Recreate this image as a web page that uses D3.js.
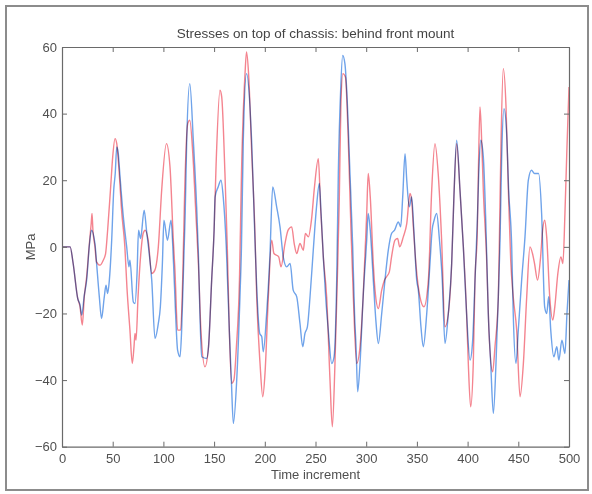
<!DOCTYPE html>
<html>
<head>
<meta charset="utf-8">
<script src="https://cdn.jsdelivr.net/npm/d3@7"></script>
<style>
    body { margin: 0; background: #fff; }
    svg { font-family: "Liberation Sans", Arial, sans-serif; }
</style>
</head>
<body>
<svg id="chart" width="592" height="494"></svg>
<script>
const chartTitle = "Stresses on top of chassis: behind front mount";
const xLabel = "Time increment";
const yLabel = "MPa";
const xTicks = [0, 50, 100, 150, 200, 250, 300, 350, 400, 450, 500];
const yTicks = [-60, -40, -20, 0, 20, 40, 60];

// blue trace (time increment, MPa)
const blueT = [0, 4, 8, 11, 15.5, 17.8, 19.4, 22, 24.3, 27, 29, 32.5, 34, 36.8, 39, 41.7, 43.4, 45, 46.7, 49, 51, 52.5, 54, 55.5, 57, 60.5, 63.8, 66, 67, 70.3, 72, 74, 75.5, 77.5, 81, 83.5, 86, 88.5, 91.7, 95, 97, 99, 100.5, 104, 107.5, 110, 112, 114, 116.4, 118, 120, 121.5, 123, 126, 129.5, 132.8, 134.5, 136, 137.8, 142.7, 144.5, 147.6, 150, 151, 154, 156.8, 159, 162, 165, 167, 169, 172.3, 175.5, 177, 178.8, 182, 185.4, 187, 190.3, 192, 195, 197, 198.5, 201.8, 205, 207.8, 211.7, 215, 218.2, 221.6, 225, 228, 231.5, 234.7, 237.4, 239.6, 242, 244.6, 247.8, 251, 253.8, 255.5, 257.7, 260, 262.6, 266, 268.3, 270.9, 272.5, 274.8, 276.8, 279, 280.8, 284, 286.7, 288.5, 290, 291.6, 293.9, 297, 300.5, 302, 304, 307, 309.5, 312, 315.3, 318.5, 321.8, 325, 328, 331.7, 334, 336, 338.3, 340, 342.5, 344.8, 347, 349.8, 351.4, 354, 356.3, 359.7, 362.9, 365, 367, 369.5, 372, 375, 377.7, 381, 384.3, 386.5, 389.2, 392.5, 395.8, 399, 402.4, 405, 407.3, 409.6, 411, 413, 415.5, 418, 420.4, 422.8, 425.4, 428, 430.3, 432, 433.6, 435.9, 438.5, 440.5, 443.5, 445, 447.7, 450, 453.3, 456.6, 459.9, 463, 466, 470, 473, 476, 478, 480, 482, 485, 488, 490, 493, 496, 498, 500];
const blueV = [0, 0, 0, -5, -15.5, -17.5, -20.5, -14.5, -10, 0.5, 5, 1, -4.5, -15, -21.5, -15, -11.5, -14, -10, 2, 17, 22, 30, 28, 22, 9, 0, -6, -4, -16.5, -17, -8, 5, 2.5, 11, 4.5, -2, -10, -27.5, -23, -18, -5, 8, 2, 8, -5, -20, -31, -33, -25, -5, 10, 32, 49, 32, 12, -2, -20, -33, -33.5, -30, -10, 5, 15, 18, 20, 15, 0, -25, -40, -53, -40, -15, 0, 32, 52, 42, 32, 2, -12, -26, -27, -31.5, -20, -3, 18, 12, 6, -3, -6, -5, -13, -15, -23, -30, -26, -24, -15, -1, 12, 19, 10, -3, -15, -25, -35, -33, -10, 22, 47, 57.5, 55, 47, 22, 0, -20, -30, -43.5, -35, -15, 2, 10, 5, -10, -22, -29, -20, -10, -1, 4, 5, 7.5, 6, 15, 28, 20, 12, 15, 5, -10, -13, -24, -30, -20, -5, 5, 8, 10, 3, -10, -29, -20, -5, 15, 32, 17, 0, -20, -34, -28, -10, 8, 22, 32, 27, 7, -20, -35, -50, -35, -15, 2, 27, 41.5, 34, 17, 0, -20, -35, -25, -10, 3, 20, 23, 22, 22, 10, -18, -20, -15, -25, -33, -30, -34, -28, -32, -20, -10];

// red trace (time increment, MPa)
const redT = [0, 4, 8, 11, 15.5, 17.8, 20, 22, 24.3, 27, 28.8, 29.6, 30.5, 32.5, 34, 37.5, 40.7, 43, 45, 48, 50, 52.3, 54, 56, 59, 62, 64, 67, 69.3, 71, 72, 73, 75, 78, 80, 82, 85, 88.5, 91.6, 95, 98.3, 103, 106.5, 109.8, 111.4, 114, 117, 119, 121, 124, 126, 129, 132, 134.5, 137, 141, 144.5, 147.6, 150, 152, 155.8, 157.5, 160.7, 163, 165, 167.3, 169.5, 172, 175, 177, 180.5, 182, 184, 187, 190.3, 192, 195.3, 198, 200.2, 203.5, 206.8, 209, 213.7, 216, 219.9, 223, 226.5, 229, 231.5, 234.7, 238, 240, 243, 246, 249, 252.8, 255, 257.7, 261, 264.3, 266.6, 269.2, 271.5, 273.5, 275, 277, 279.5, 282, 285, 287.3, 290.6, 293.9, 297, 300.5, 302, 304, 307, 308.7, 312, 315.3, 318, 320, 322.8, 325, 328.4, 331, 333, 336.6, 340, 343.2, 344.8, 346.5, 349, 353, 357, 361.3, 364.6, 367.8, 371, 374.4, 377.7, 381, 384.3, 386.5, 389.2, 392.5, 395.8, 399, 400.7, 403, 405.6, 407.3, 409.6, 410.6, 412.2, 413.5, 415.5, 418.8, 421, 424.7, 427, 430.3, 431.5, 433, 435.2, 437.9, 440.2, 442.5, 445, 448.4, 451.7, 455, 458.3, 461.5, 464, 466, 469, 472, 474, 476, 478, 481, 484, 486, 489, 492, 494, 496, 498, 500];
const redV = [0, 0, 0, -5, -15.5, -18, -23.5, -15, -9, 1, 7, 10, 5, 0, -4.5, -5.5, -4, -2, 5, 18, 27, 32.5, 31, 24, 10, 0, -12, -25, -35, -30, -26, -28, -15, -1, 4, 5, 2, -8, -7, 0, 17, 31, 24, 2, -7, -25, -25, -10, 17, 37, 38, 28, 10, -5, -25, -36, -30, -10, 5, 25, 47, 45, 22, 0, -25, -41, -40, -30, -10, 22, 52, 58.5, 52, 29, 4, -15, -35, -45, -38, -15, 2, -2, -3, -6, 1, 5, 6, 1, -2, 1, -1, 4, 3, 8, 18, 26.5, 12, -3, -15, -40, -54, -35, -10, 15, 42, 52, 51, 35, 5, -15, -35, -30, -15, 10, 22, 15, -5, -13, -18.5, -13, -10, -9, -7.5, -3, 2, 2.5, 0, 3, 7, 16, 14, 6, -5, -15, -18, -10, 17, 31, 22, 2, -24, -20, -5, 15, 31, 17, 0, -20, -35, -48, -35, -10, 5, 22, 42, 35, 17, -4, -25, -37.5, -30, -15, 5, 32, 53.5, 42, 17, -4, -15, -25, -45, -35, -15, 0, -2, -5, -10, -3, 5, 8, 3, -15, -22, -18, -8, -3, -5, 10, 30, 48];

const plot = { left: 62, right: 569, top: 47, bottom: 446.7 };

const svg = d3.select("#chart");

// outer frame of the scanned figure
svg.append("rect")
    .attr("x", 6).attr("y", 6)
    .attr("width", 582).attr("height", 484)
    .attr("fill", "#fff")
    .attr("stroke", "#8c8c8c")
    .attr("stroke-width", 2);

const x = d3.scaleLinear().domain([0, 500]).range([plot.left, plot.right]);
const y = d3.scaleLinear().domain([-60, 60]).range([plot.bottom, plot.top]);

const line = d3.line()
    .x(d => x(d[0]))
    .y(d => y(d[1]))
    .curve(d3.curveMonotoneX);

const series = [
    { t: redT, v: redV, color: "#f4848f" },
    { t: blueT, v: blueV, color: "#6fa3ea" }
];

const g = svg.append("g");
series.forEach(s => {
    g.append("path")
        .datum(s.t.map((t, i) => [t, s.v[i]]))
        .attr("d", line)
        .attr("fill", "none")
        .attr("stroke", s.color)
        .attr("stroke-width", 1.4)
        .style("mix-blend-mode", "multiply");
});

// axes, MATLAB style: box with inward ticks on all sides
const axisColor = "#6a6a6a";
const textColor = "#505050";
const tickLen = 5;

const xAxisBottom = d3.axisBottom(x).tickValues(xTicks).tickSizeInner(-tickLen).tickSizeOuter(0).tickPadding(7);
const xAxisTop = d3.axisTop(x).tickValues(xTicks).tickSizeInner(-tickLen).tickSizeOuter(0).tickFormat("");
const yAxisLeft = d3.axisLeft(y).tickValues(yTicks).tickSizeInner(-tickLen).tickSizeOuter(0).tickPadding(5);
const yAxisRight = d3.axisRight(y).tickValues(yTicks).tickSizeInner(-tickLen).tickSizeOuter(0).tickFormat("");

const axes = [
    svg.append("g").attr("transform", `translate(0,${plot.bottom})`).call(xAxisBottom),
    svg.append("g").attr("transform", `translate(0,${plot.top})`).call(xAxisTop),
    svg.append("g").attr("transform", `translate(${plot.left},0)`).call(yAxisLeft),
    svg.append("g").attr("transform", `translate(${plot.right},0)`).call(yAxisRight)
];
axes.forEach(a => {
    a.select(".domain").attr("stroke", axisColor).attr("stroke-width", 1.2);
    a.selectAll(".tick line").attr("stroke", axisColor);
    a.selectAll(".tick text")
        .attr("fill", textColor)
        .style("font-size", "13px")
        .style("font-family", "'Liberation Sans', Arial, sans-serif");
});

svg.append("text")
    .attr("x", (plot.left + plot.right) / 2)
    .attr("y", 38)
    .attr("text-anchor", "middle")
    .attr("fill", "#444")
    .style("font-size", "13.5px")
    .text(chartTitle);

svg.append("text")
    .attr("x", (plot.left + plot.right) / 2)
    .attr("y", 479)
    .attr("text-anchor", "middle")
    .attr("fill", textColor)
    .style("font-size", "13px")
    .text(xLabel);

svg.append("text")
    .attr("transform", `translate(35,${y(0)}) rotate(-90)`)
    .attr("text-anchor", "middle")
    .attr("fill", textColor)
    .style("font-size", "13px")
    .text(yLabel);
</script>
</body>
</html>
